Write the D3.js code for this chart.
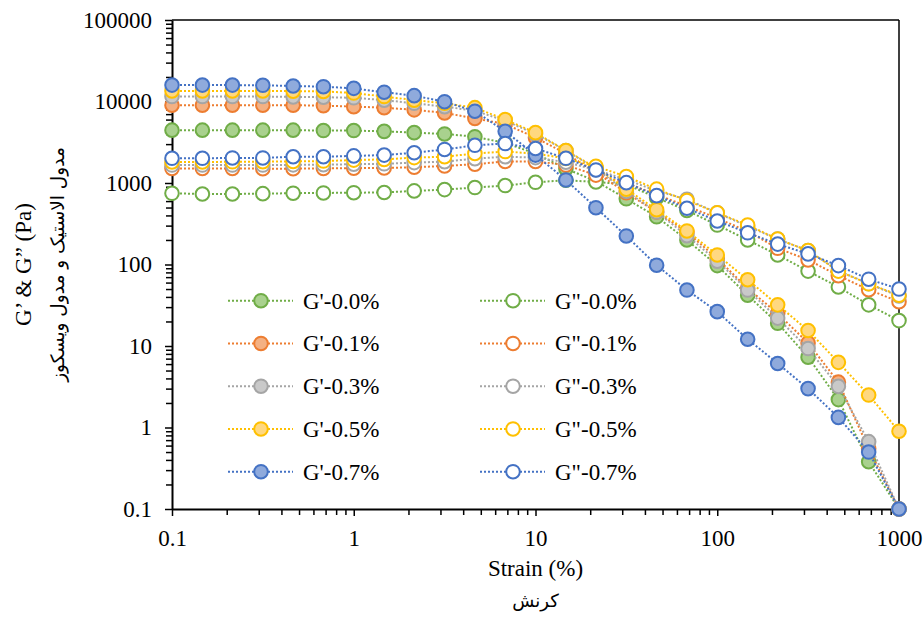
<!DOCTYPE html>
<meta charset="utf-8">
<html>
<head>
<title>G' and G'' vs strain</title>
<style>
  body { margin: 0; background: #fff; }
  svg text { font-family: 'Liberation Serif', 'Times New Roman', serif; fill: #000; }
  .axis path, .axis line { stroke: #000; }
  .axis path { stroke-width: 2px; }
  .axis line { stroke-width: 1.5px; }
  .axis text { font-size: 23px; }
  .fa { font-family: 'DejaVu Sans', sans-serif !important; }
  .series path { fill: none; stroke-width: 2px; stroke-dasharray: 2,2; }
  .series circle { stroke-width: 2px; }
</style>
</head>
<body>
<svg width="923" height="617"></svg>
<script src="https://cdn.jsdelivr.net/npm/d3@7"></script>
<script>

// strain (%) - same points for every sample
var strain = [0.1, 0.147, 0.215, 0.316, 0.464, 0.681, 1, 1.47, 2.15, 3.16, 4.64, 6.81,
              10, 14.7, 21.5, 31.6, 46.4, 68.1, 100, 147, 215, 316, 464, 681, 1000];

// storage modulus G' (Pa)
var gp00 = [4450, 4450, 4450, 4450, 4450, 4400, 4400, 4300, 4150, 4000, 3700, 3100, 2300, 1500, 1050, 640, 385, 200, 97, 42, 19, 7.3, 2.2, 0.38, 0.1];
var gp01 = [9000, 9000, 9000, 9000, 9000, 8900, 8650, 8400, 7900, 7250, 6200, 5300, 3600, 2300, 1350, 760, 440, 250, 118, 51, 25, 10.9, 3.6, 0.55, 0.1];
var gp03 = [11500, 11500, 11500, 11500, 11400, 11300, 11100, 10400, 9500, 8650, 7700, 5800, 4000, 2500, 1500, 790, 440, 226, 110, 48.6, 22, 9.3, 3.2, 0.67, 0.1];
var gp05 = [13500, 13500, 13500, 13500, 13400, 13300, 12700, 11500, 10400, 9500, 8400, 6000, 4150, 2500, 1550, 840, 470, 258, 131, 65, 32, 15.5, 6.3, 2.5, 0.9];
var gp07 = [15900, 15900, 15900, 15800, 15500, 15200, 14500, 13000, 11800, 9940, 7600, 4300, 2200, 1090, 498, 224, 98, 48.6, 26.4, 12.1, 6.1, 3.0, 1.33, 0.5, 0.1];

// loss modulus G'' (Pa)
var gpp00 = [748, 733, 733, 740, 750, 755, 760, 765, 800, 830, 880, 930, 1020, 1080, 1030, 960, 660, 460, 305, 200, 131, 83, 53, 32, 20.5];
var gpp01 = [1510, 1510, 1510, 1500, 1500, 1510, 1520, 1530, 1560, 1620, 1700, 1840, 1840, 1660, 1250, 1000, 720, 520, 370, 255, 158, 114, 73, 49, 35];
var gpp03 = [1660, 1660, 1660, 1660, 1670, 1680, 1700, 1720, 1780, 1830, 1990, 2100, 2050, 1800, 1450, 1100, 800, 630, 430, 295, 205, 148, 84, 58, 41];
var gpp05 = [1810, 1810, 1820, 1830, 1840, 1860, 1910, 1950, 2050, 2100, 2300, 2430, 2300, 2000, 1600, 1200, 840, 610, 430, 305, 205, 148, 83, 58, 42];
var gpp07 = [2010, 2010, 2030, 2030, 2100, 2100, 2150, 2200, 2350, 2580, 2900, 3050, 2650, 2010, 1445, 1010, 700, 490, 342, 245, 178, 135, 97, 66, 50];

var names = ["0.0%", "0.1%", "0.3%", "0.5%", "0.7%"];
var lineColors = ["#70ad47", "#ed7d31", "#a5a5a5", "#ffc000", "#4472c4"];
var fillColors = ["#a9d18e", "#f4b183", "#c9c9c9", "#ffd880", "#8faadc"];

var xTicks = [0.1, 1, 10, 100, 1000];
var yTicks = [0.1, 1, 10, 100, 1000, 10000, 100000];

// excel order: G', G'' alternately per sample
var gpList = [gp00, gp01, gp03, gp05, gp07];
var gppList = [gpp00, gpp01, gpp03, gpp05, gpp07];
var series = [];
names.forEach(function (n, i) {
  series.push({ label: "G'-" + n, values: gpList[i], color: lineColors[i], fill: fillColors[i], col: 0, row: i });
  series.push({ label: 'G"-' + n, values: gppList[i], color: lineColors[i], fill: "#fff", col: 1, row: i });
});

var svg = d3.select("svg"),
    margin = { left: 172, top: 20, right: 24, bottom: 108 },
    width = +svg.attr("width") - margin.left - margin.right,
    height = +svg.attr("height") - margin.top - margin.bottom;

var x = d3.scaleLog().domain([0.1, 1000]).range([0, width]);
var y = d3.scaleLog().domain([0.1, 100000]).range([height, 0]);

var g = svg.append("g").attr("transform", "translate(" + margin.left + "," + margin.top + ")");

// minor ticks
function minors(lo, hi) {
  var out = [];
  for (var d = lo; d < hi; d *= 10) {
    for (var k = 2; k <= 9; k++) out.push(d * k);
  }
  return out;
}

g.append("g").attr("class", "axis")
    .attr("transform", "translate(0," + height + ")")
    .call(d3.axisBottom(x).tickValues(minors(0.1, 1000)).tickSize(6).tickFormat(""))
    .select(".domain").remove();
g.append("g").attr("class", "axis")
    .call(d3.axisLeft(y).tickValues(minors(0.1, 100000)).tickSize(6).tickFormat(""))
    .select(".domain").remove();

// frame (top / right)
g.append("line").attr("x1", 0).attr("x2", width).attr("y1", 0).attr("y2", 0)
    .attr("stroke", "#000").attr("stroke-width", 1.5);
g.append("line").attr("x1", width).attr("x2", width).attr("y1", 0).attr("y2", height)
    .attr("stroke", "#000").attr("stroke-width", 1.5);

var xAxis = g.append("g").attr("class", "axis")
    .attr("transform", "translate(0," + height + ")")
    .call(d3.axisBottom(x).tickValues(xTicks).tickSize(7).tickSizeOuter(0).tickPadding(14)
      .tickFormat(function (d) { return String(d); }));
var yAxis = g.append("g").attr("class", "axis")
    .call(d3.axisLeft(y).tickValues(yTicks).tickSize(7).tickSizeOuter(0).tickPadding(13)
      .tickFormat(function (d) { return String(d); }));

// series
var line = d3.line()
    .x(function (d) { return x(d[0]); })
    .y(function (d) { return y(d[1]); });

var sg = g.selectAll(".series")
    .data(series)
    .enter().append("g")
    .attr("class", "series");

sg.append("path")
    .attr("stroke", function (s) { return s.color; })
    .attr("d", function (s) { return line(s.values.map(function (v, i) { return [strain[i], v]; })); });

sg.selectAll("circle")
    .data(function (s) { return s.values.map(function (v, i) { return { x: strain[i], y: v, s: s }; }); })
    .enter().append("circle")
    .attr("cx", function (d) { return x(d.x); })
    .attr("cy", function (d) { return y(d.y); })
    .attr("r", 6.8)
    .attr("fill", function (d) { return d.s.fill; })
    .attr("stroke", function (d) { return d.s.color; });

// legend
var legend = svg.append("g");
var li = legend.selectAll("g")
    .data(series)
    .enter().append("g")
    .attr("transform", function (s) {
      return "translate(" + (s.col ? 513 : 261) + "," + (300.7 + s.row * 42.75) + ")";
    });
li.append("line")
    .attr("x1", -33).attr("x2", 32)
    .attr("stroke", function (s) { return s.color; })
    .attr("stroke-width", 2).attr("stroke-dasharray", "2,2");
li.append("circle")
    .attr("r", 6.8).attr("stroke-width", 2)
    .attr("fill", function (s) { return s.fill; })
    .attr("stroke", function (s) { return s.color; });
li.append("text")
    .attr("x", 42).attr("y", 8)
    .style("font-size", "23px")
    .text(function (s) { return s.label; });

// axis titles
svg.append("text")
    .attr("x", margin.left + width / 2).attr("y", 576)
    .attr("text-anchor", "middle").style("font-size", "23px")
    .text("Strain (%)");
svg.append("text").attr("class", "fa")
    .attr("x", margin.left + width / 2).attr("y", 607)
    .attr("text-anchor", "middle").style("font-size", "18px")
    .text("کرنش");

svg.append("text")
    .attr("transform", "translate(31," + (margin.top + height / 2) + ") rotate(-90)")
    .attr("text-anchor", "middle").style("font-size", "23px")
    .text("G’ & G” (Pa)");
svg.append("text").attr("class", "fa")
    .attr("transform", "translate(64," + (margin.top + height / 2) + ") rotate(-90)")
    .attr("text-anchor", "middle").style("font-size", "18.5px")
    .text("مدول الاستیک و مدول ویسکوز");

</script>
</body>
</html>
